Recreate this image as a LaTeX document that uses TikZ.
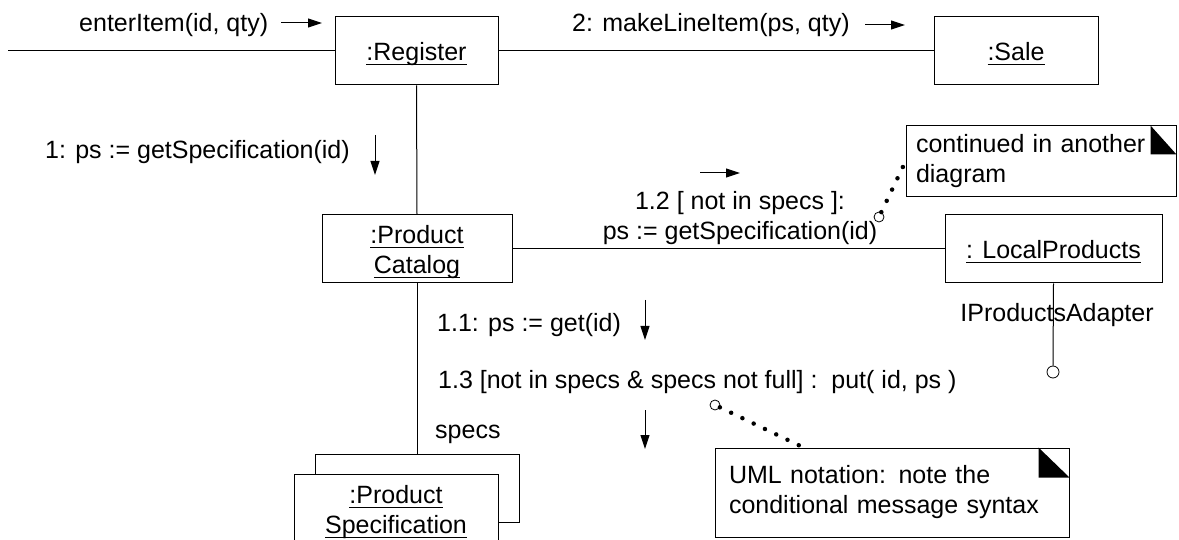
\documentclass[tikz,border=0pt]{standalone}
\usepackage{fontspec}
\setmainfont{Liberation Sans}
\usetikzlibrary{arrows.meta}
\newsavebox\ulbox
\newcommand\uln[1]{\sbox\ulbox{#1}%
  \raisebox{0pt}[\ht\ulbox][0pt]{\rlap{\rule[-5pt]{\wd\ulbox}{1.1pt}}\usebox\ulbox}}
\tikzset{
  obj/.style={draw, line width=1pt, fill=white, align=center, inner sep=0pt, minimum height=68pt},
  link/.style={line width=1pt},
  msg/.style={-{Triangle[length=14pt,width=9pt]}, line width=1pt},
  lbl/.style={inner sep=0pt},
  note/.style={draw, line width=1pt, fill=white, align=left, inner sep=0pt},
  pin/.style={circle, draw, fill=white, line width=0.8pt, minimum size=#1, inner sep=0pt},
  pin/.default=10pt,
  dots/.style={line width=4.5pt, line cap=round, dash pattern=on 0pt off 12.5pt},
}

\begin{document}
\begin{tikzpicture}[x=1pt,y=-1pt,font=\fontsize{25}{30}\selectfont]
  \useasboundingbox (0,0) rectangle (1179,540);
  % objects
  \node[obj, minimum width=163pt] (reg) at (416.5,51) {\uln{:Register}};
  \node[obj, minimum width=164pt] (sale) at (1016,51) {\uln{:Sale}};
  \node[obj, minimum width=190pt] (cat) at (417,249) {\uln{:Product}\\\uln{Catalog}};
  \node[obj, minimum width=217pt] (local) at (1053.5,249) {\uln{: LocalProducts}};
  \node[obj, minimum width=204pt] (specb) at (417,488) {};
  \node[obj, minimum width=204pt, minimum height=70pt] (spec) at (396,509) {\uln{:Product}\\\uln{Specification}};
  \coordinate (in) at (8,51);
  \node[pin=12pt] (iface) at (1053,372) {};

  % links
  \draw[link] (in) -- (reg.west);
  \draw[link] (reg.east) -- (sale.west);
  \draw[link] (reg.south) -- (cat.north);
  \draw[link] (cat.east) -- (local.west);
  \draw[link] (cat.south) -- (specb.north);
  \draw[link] (local.south) -- (iface.north);

  % messages
  \node[lbl, anchor=west] (m0) at (79,25) {enterItem(id, qty)};
  \node[lbl, anchor=west] (m2) at (572,25) {2: makeLineItem(ps, qty)};
  \node[lbl, anchor=west] (m1) at (45,152) {1: ps := getSpecification(id)};
  \node[lbl, align=center] (m12) at (740,218) {1.2 [ not in specs ]:\\ps := getSpecification(id)};
  \node[lbl, anchor=west] (m11) at (437,325) {1.1: ps := get(id)};
  \node[lbl, anchor=west] (m13) at (438,382) {1.3 [not in specs \& specs not full] :\ \ put( id, ps )};
  \node[lbl, anchor=west] (role) at (435,434) {specs};
  \node[lbl] (ifname) at (1057,315) {IProductsAdapter};

  \coordinate (a0s) at (281,23);  \coordinate (a0e) at (322,23);
  \coordinate (a2s) at (865,25);  \coordinate (a2e) at (905,25);
  \coordinate (a1s) at (375,135); \coordinate (a1e) at (375,175);
  \coordinate (a12s) at (700,173); \coordinate (a12e) at (740,173);
  \coordinate (a11s) at (645,300); \coordinate (a11e) at (645,340);
  \coordinate (a13s) at (645,410); \coordinate (a13e) at (645,449);
  \foreach \a in {a0,a2,a1,a12,a11,a13}
    \draw[msg] (\a s) -- (\a e);

  % notes
  \node[note, minimum width=270pt, minimum height=71pt, text width=250pt] (note1) at (1041,161.5)
    {continued in another\\diagram};
  \fill ([xshift=-26pt]note1.north east) -- ([xshift=-26pt,yshift=-29pt]note1.north east)
    -- ([yshift=-29pt]note1.north east) -- cycle;
  \node[note, minimum width=354pt, minimum height=89pt, text width=326pt] (note2) at (892,492.5)
    {UML notation: note the\\conditional message syntax};
  \fill ([xshift=-31pt]note2.north east) -- ([xshift=-31pt,yshift=-30pt]note2.north east)
    -- ([yshift=-30pt]note2.north east) -- cycle;

  \node[pin] (c1) at (879,217) {};
  \node[pin] (c2) at (715,405) {};
  \draw[dots] (c1) -- (note1.west);
  \draw[dots] (c2) -- ([xshift=89pt]note2.north west);
\end{tikzpicture}
\end{document}
